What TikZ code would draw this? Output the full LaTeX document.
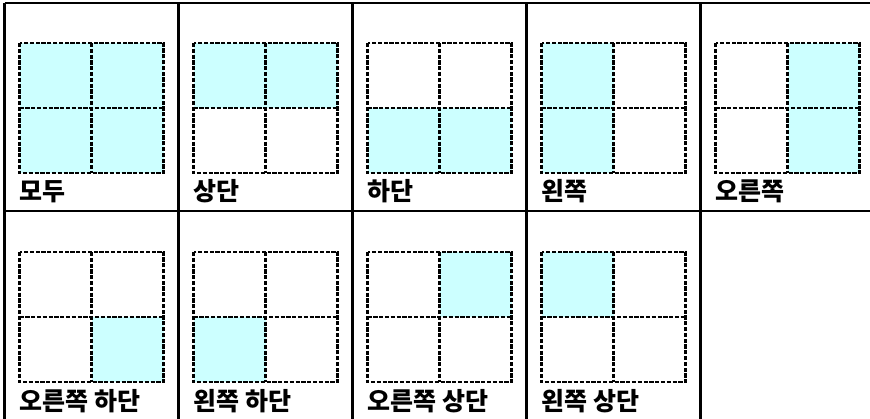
\documentclass[tikz,border=0pt]{standalone}
\usepackage{fontspec}
\newfontfamily\kofont{Noto Sans CJK KR}
\usepackage{xcolor}
\definecolor{PaleCyan}{RGB}{204, 255, 255}
\tikzset{
  tablerule/.style={line width=2.2pt},
  quadline/.style={line width=2.2pt, dash pattern=on 4.2pt off 1.6pt},
  panellabel/.style={font=\kofont\bfseries\fontsize{25}{25}\selectfont, anchor=base west, inner sep=0pt}
}

\begin{document}
\begin{tikzpicture}[x=1pt, y=-1pt]
  \useasboundingbox (0,0) rectangle (870,419);
  % Table rules
  \draw[tablerule] (4.5,3) -- (870,3);
  \draw[tablerule] (4.5,211) -- (870,211);
  \foreach \x in {4.5, 178.5, 352.5, 526.5, 700.5} {
    \draw[tablerule] (\x,3) -- (\x,419);
  }
  % Panels: column/row/label/filled quadrants (tl, tr, bl, br)
  \foreach \c/\r/\txt/\tl/\tr/\bl/\br in {
      0/0/모두/1/1/1/1, 1/0/상단/1/1/0/0, 2/0/하단/0/0/1/1,
      3/0/왼쪽/1/0/1/0, 4/0/오른쪽/0/1/0/1,
      0/1/오른쪽 하단/0/0/0/1, 1/1/왼쪽 하단/0/0/1/0,
      2/1/오른쪽 상단/0/1/0/0, 3/1/왼쪽 상단/1/0/0/0} {
    \begin{scope}[shift={(4.5+174*\c, 3+209*\r)}]
      % Filled quadrants
      \ifnum\tl=1 \fill[PaleCyan] (15,40) rectangle (87,105); \fi
      \ifnum\tr=1 \fill[PaleCyan] (87,40) rectangle (159,105); \fi
      \ifnum\bl=1 \fill[PaleCyan] (15,105) rectangle (87,170); \fi
      \ifnum\br=1 \fill[PaleCyan] (87,105) rectangle (159,170); \fi
      % Dashed grid
      \draw[quadline] (15,40) rectangle (159,170);
      \draw[quadline] (87,40) -- (87,170);
      \draw[quadline] (15,105) -- (159,105);
      \node[panellabel] (lab-\c-\r) at (15,198) {\txt};
    \end{scope}
  }
\end{tikzpicture}
\end{document}
